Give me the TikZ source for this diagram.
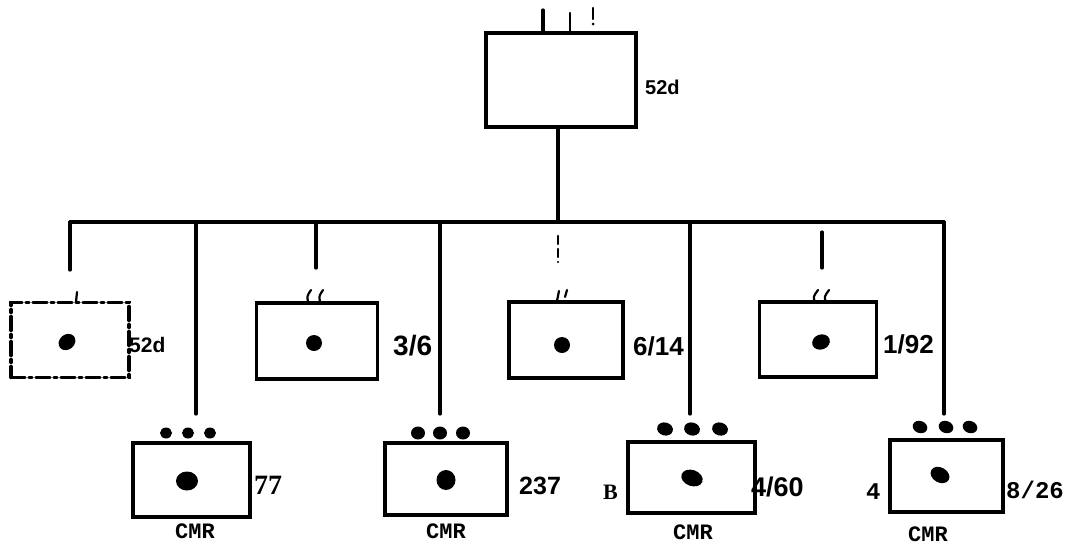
\documentclass[tikz,border=0pt]{standalone}
\usepackage{fontspec}
\setmainfont{Liberation Sans}
\newfontfamily\monofnt{Liberation Mono}
\newfontfamily\seriffnt{Liberation Serif}
\begin{document}
\begin{tikzpicture}[x=1pt,y=-1pt,line cap=round,
  unit/.style={draw,line width=3.4pt,inner sep=0pt,outer sep=0pt},
  ln/.style={line width=3.2pt},
  thin/.style={line width=2.2pt},
  lab/.style={inner sep=0pt,anchor=west,font=\bfseries\fontsize{26}{26}\selectfont},
  tlab/.style={inner sep=0pt,font=\monofnt\bfseries\fontsize{22}{22}\selectfont},
  dot/.style={fill=black,draw=none}]
\useasboundingbox (0,0) rectangle (1069,547);
% top unit
\node[unit,minimum width=150pt,minimum height=94pt] (top) at (561,80) {};
\node[lab,font=\bfseries\fontsize{20}{20}\selectfont] (ltop) at (645,87) {52d};
\coordinate (t1a) at (543,10); \coordinate (t1b) at (543,33);
\coordinate (t2a) at (570,13); \coordinate (t2b) at (570,33);
\coordinate (t3a) at (593,8);  \coordinate (t3b) at (593,19);
\coordinate (t3c) at (593,24);
\draw[ln] (t1a) -- (t1b);
\draw[thin] (t2a) -- (t2b);
\draw[thin] (t3a) -- (t3b);
\fill (t3c) circle (1.5pt);
% row 1 units
\node[unit,dash pattern=on 14pt off 4pt on 3pt off 4pt,minimum width=118pt,minimum height=75pt] (b1) at (70,340) {};
\node[unit,minimum width=121pt,minimum height=76pt] (b2) at (317,341) {};
\node[unit,minimum width=114pt,minimum height=76pt] (b3) at (566,340) {};
\node[unit,minimum width=117pt,minimum height=75pt] (b4) at (818,339.5) {};
% row 2 units
\node[unit,minimum width=117pt,minimum height=74pt] (b5) at (191.5,480) {};
\node[unit,minimum width=122pt,minimum height=72pt] (b6) at (446,479) {};
\node[unit,minimum width=127pt,minimum height=71pt] (b7) at (691.5,477.5) {};
\node[unit,minimum width=113pt,minimum height=72pt] (b8) at (946.5,476) {};
% bus
\coordinate (bus) at (558,222);
\coordinate (busL) at (70,222);
\coordinate (busR) at (944,222);
\draw[ln] (top.south -| bus) -- (bus);
\draw[ln] (busL) -- (busR);
% row 1 stubs
\coordinate (s1) at (70,270);
\coordinate (s2) at (316,268);
\coordinate (s3a) at (558,236); \coordinate (s3b) at (558,262);
\coordinate (s4a) at (822,232); \coordinate (s4b) at (822,268);
\draw[ln] (b1.north |- busL) -- (s1);
\draw[ln] (s2 |- busL) -- (s2);
\draw[thin,dash pattern=on 8pt off 5pt] (s3a) -- (s3b);
\draw[ln] (s4a) -- (s4b);
% row 2 long lines
\coordinate (l5) at (196,414);
\coordinate (l6) at (440,414);
\coordinate (l7) at (690,414);
\coordinate (l8) at (944,414);
\draw[ln] (l5 |- busL) -- (l5);
\draw[ln] (l6 |- busL) -- (l6);
\draw[ln] (l7 |- busL) -- (l7);
\draw[ln] (busR) -- (l8);
% small marks above row 1 units
\coordinate (m1a) at (77,292); \coordinate (m1b) at (76,302);
\draw[thin] (m1a) -- (m1b);
\coordinate (m2a) at (311,290); \coordinate (m2b) at (308,302);
\coordinate (m2c) at (323,290); \coordinate (m2d) at (320,302);
\draw[thin] (m2a) .. controls (307,296) .. (m2b);
\draw[thin] (m2c) .. controls (319,296) .. (m2d);
\coordinate (m3a) at (559,291); \coordinate (m3b) at (557,301);
\coordinate (m3c) at (567,290); \coordinate (m3d) at (565,297);
\draw[thin] (m3a) -- (m3b);
\draw[thin] (m3c) -- (m3d);
\coordinate (m4a) at (818,290); \coordinate (m4b) at (815,302);
\coordinate (m4c) at (829,290); \coordinate (m4d) at (826,302);
\draw[thin] (m4a) .. controls (813,297) .. (m4b);
\draw[thin] (m4c) .. controls (824,297) .. (m4d);
% central dots
\fill[dot,rotate around={40:(67,342)}] (67,342) ellipse (9pt and 7.5pt);
\fill[dot] (314,343) ellipse (8pt and 8pt);
\fill[dot] (562,345) ellipse (8pt and 8pt);
\fill[dot,rotate around={20:(821,342)}] (821,342) ellipse (9pt and 7.5pt);
\fill[dot] (187,481) ellipse (11pt and 9.5pt);
\fill[dot] (446,480) ellipse (9.5pt and 10pt);
\fill[dot,rotate around={-20:(692,478)}] (692,478) ellipse (11pt and 8pt);
\fill[dot,rotate around={-30:(940,475)}] (940,475) ellipse (10pt and 7.5pt);
% three dots above row 2 units
\foreach \x in {166,188,210} \fill[dot] (\x,433) ellipse (6pt and 5.5pt);
\foreach \x in {418,440,463} \fill[dot] (\x,433) ellipse (7pt and 6.5pt);
\foreach \x in {665,692,720} \fill[dot,rotate around={-15:(\x,429)}] (\x,429) ellipse (8pt and 6.5pt);
\foreach \x in {920,946,970} \fill[dot,rotate around={-20:(\x,427)}] (\x,427) ellipse (7.5pt and 6pt);
% labels
\node[lab,font=\bfseries\fontsize{21}{21}\selectfont] (l1) at (b1.east |- 0,345) {52d};
\node[lab,font=\bfseries\fontsize{28}{28}\selectfont] (l2) at (393,346) {3/6};
\node[lab] (l3) at (633,346) {6/14};
\node[lab] (l4) at (883,344) {1/92};
\node[lab,font=\seriffnt\bfseries\fontsize{28}{28}\selectfont] (l5t) at (254,485) {77};
\node[lab,font=\bfseries\fontsize{25}{25}\selectfont] (l6t) at (519,486) {237};
\node[lab,font=\seriffnt\bfseries\fontsize{22}{22}\selectfont] (lB) at (603,492) {B};
\node[lab,font=\bfseries\fontsize{27}{27}\selectfont] (l7t) at (751,487) {4/60};
\node[lab,font=\monofnt\bfseries\fontsize{24}{24}\selectfont] (l8L) at (866,492) {4};
\node[lab,font=\monofnt\bfseries\fontsize{24}{24}\selectfont] (l8t) at (1006,490) {8/26};
\node[tlab] (c5) at (195,531) {CMR};
\node[tlab] (c6) at (446,531) {CMR};
\node[tlab] (c7) at (693,532) {CMR};
\node[tlab] (c8) at (928,534) {CMR};
\end{tikzpicture}
\end{document}
